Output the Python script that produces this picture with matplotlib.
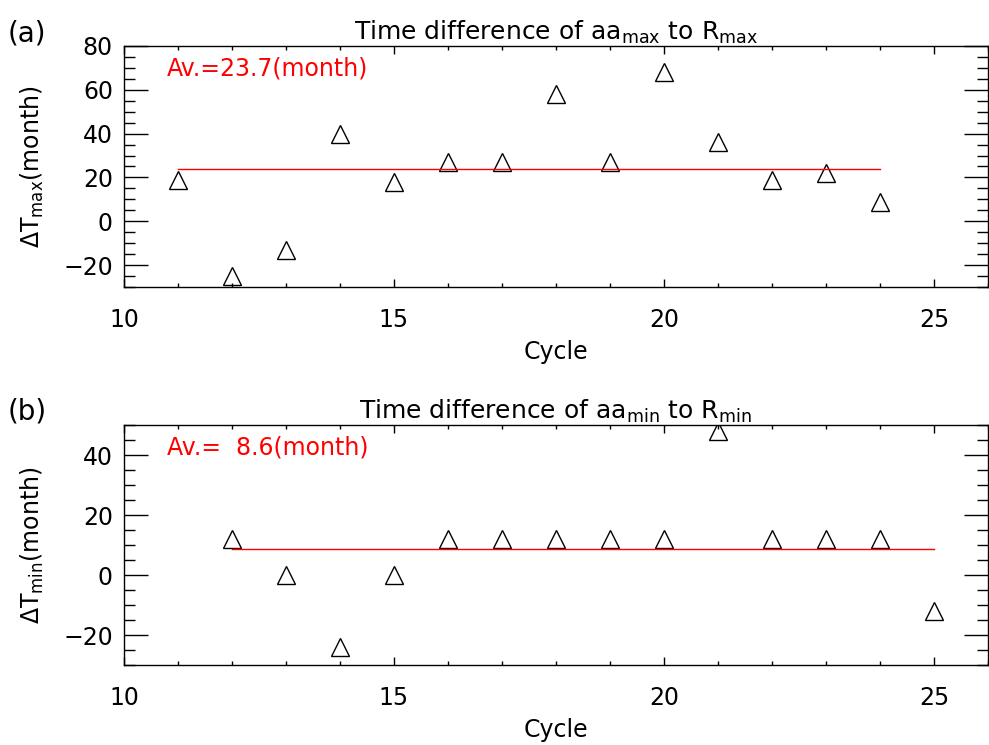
"""
Time difference of aa extrema to sunspot extrema, per solar cycle.
"""

import matplotlib
matplotlib.use("Agg")
import matplotlib.pyplot as plt
from matplotlib.ticker import MultipleLocator

# panel (a): aa_max vs R_max
cycles_max = [11, 12, 13, 14, 15, 16, 17, 18, 19, 20, 21, 22, 23, 24]
dt_max = [19, -25, -13, 40, 18, 27, 27, 58, 27, 68, 36, 19, 22, 9]
avg_max = 23.7

# panel (b): aa_min vs R_min
cycles_min = [12, 13, 14, 15, 16, 17, 18, 19, 20, 21, 22, 23, 24, 25]
dt_min = [12, 0, -24, 0, 12, 12, 12, 12, 12, 48, 12, 12, 12, -12]
avg_min = 8.6

FS = 17
plt.rcParams["font.family"] = "DejaVu Sans"
plt.rcParams["mathtext.fontset"] = "dejavusans"


def style_axes(ax, ylim):
    ax.set_xlim(10, 26)
    ax.set_ylim(*ylim)
    ax.xaxis.set_major_locator(MultipleLocator(5))
    ax.xaxis.set_minor_locator(MultipleLocator(1))
    ax.yaxis.set_major_locator(MultipleLocator(20))
    ax.yaxis.set_minor_locator(MultipleLocator(5))
    ax.tick_params(which="both", direction="in", top=True, right=True,
                   labelsize=FS, width=1.0)
    ax.tick_params(axis="x", which="major", length=6, pad=15)
    ax.tick_params(axis="x", which="minor", length=3)
    ax.tick_params(axis="y", which="major", length=17, pad=8)
    ax.tick_params(axis="y", which="minor", length=8)
    for sp in ax.spines.values():
        sp.set_linewidth(1.0)
    ax.set_xlabel("Cycle", fontsize=FS, labelpad=6)


fig = plt.figure(figsize=(9.89, 7.45), dpi=100)

ax1 = fig.add_axes([0.1254, 0.6148, 0.8735, 0.3235])
ax1.plot(cycles_max, dt_max, linestyle="none", marker="^", ms=13,
         mfc="none", mec="black", mew=1.0)
ax1.plot([cycles_max[0], cycles_max[-1]], [avg_max, avg_max],
         color="red", linewidth=1.0)
style_axes(ax1, (-30, 80))
ax1.set_ylabel(r"$\Delta$T$_{\mathrm{max}}$(month)", fontsize=FS, labelpad=12)
ax1.set_title(r"Time difference of aa$_{\mathrm{max}}$ to R$_{\mathrm{max}}$",
              fontsize=FS + 1, pad=3)
ax1.text(0.05, 0.905, f"Av.={avg_max:4.1f}(month)", color="red", fontsize=FS,
         transform=ax1.transAxes, va="center")
fig.text(0.008, 0.955, "(a)", fontsize=FS + 3, va="center")

ax2 = fig.add_axes([0.1254, 0.1074, 0.8735, 0.322])
ax2.plot(cycles_min, dt_min, linestyle="none", marker="^", ms=13,
         mfc="none", mec="black", mew=1.0)
ax2.plot([cycles_min[0], cycles_min[-1]], [avg_min, avg_min],
         color="red", linewidth=1.0)
style_axes(ax2, (-30, 50))
ax2.set_ylabel(r"$\Delta$T$_{\mathrm{min}}$(month)", fontsize=FS, labelpad=12)
ax2.set_title(r"Time difference of aa$_{\mathrm{min}}$ to R$_{\mathrm{min}}$",
              fontsize=FS + 1, pad=3)
ax2.text(0.05, 0.905, f"Av.={avg_min:5.1f}(month)", color="red", fontsize=FS,
         transform=ax2.transAxes, va="center")
fig.text(0.008, 0.447, "(b)", fontsize=FS + 3, va="center")

fig.savefig("out.png", dpi=100)
